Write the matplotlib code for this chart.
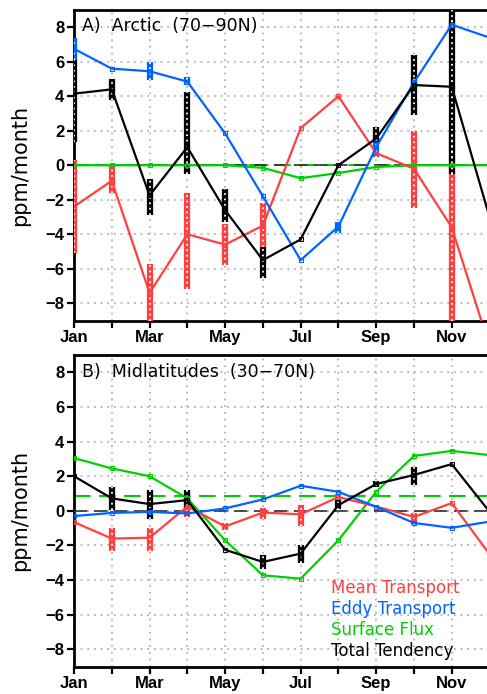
import matplotlib
matplotlib.use("Agg")
import matplotlib.pyplot as plt
import numpy as np

months = list(range(1, 13))
month_labels = ["Jan", "", "Mar", "", "May", "", "Jul", "", "Sep", "", "Nov", ""]

# Panel A: Arctic (70-90N)
a_mean = [-2.4, -0.9, -7.4, -4.0, -4.6, -3.5, 2.15, 4.0, 0.7, -0.2, -3.6, -10.5]
a_eddy = [6.75, 5.6, 5.45, 4.85, 1.85, -1.8, -5.5, -3.55, 1.05, 4.8, 8.15, 7.4]
a_flux = [0.0, 0.0, 0.0, 0.0, 0.0, -0.15, -0.75, -0.45, -0.1, 0.0, 0.0, 0.0]
a_total = [4.15, 4.4, -1.75, 1.05, -2.6, -5.5, -4.3, 0.0, 1.55, 4.65, 4.55, -3.0]
a_flux_mean = 0.0
# error bars (low, high) or None
a_mean_err = [(-5.1, 0.3), (-1.6, 0.1), (-9.0, -5.7), (-7.2, -1.6), (-5.8, -3.4), (-4.75, -2.2),
              None, None, None, (-2.5, 2.0), (-9.0, 1.9), None]
a_eddy_err = [(6.1, 7.35), None, (4.95, 6.0), (4.65, 5.1), None, None,
              None, (-3.9, -3.3), (0.5, 1.6), (4.6, 5.1), (8.0, 8.4), None]
a_total_err = [(1.35, 6.1), (3.8, 5.0), (-2.9, -0.8), (-0.5, 4.25), (-3.3, -1.35), (-6.55, -4.75),
               None, None, (1.45, 2.2), (2.9, 6.4), (-0.5, 9.0), None]

# Panel B: Midlatitudes (30-70N)
b_mean = [-0.65, -1.6, -1.55, 0.25, -0.9, -0.1, -0.2, 0.8, 0.25, -0.35, 0.45, -2.5]
b_eddy = [-0.3, -0.12, -0.06, -0.15, 0.14, 0.66, 1.45, 1.1, 0.23, -0.7, -0.98, -0.62]
b_flux = [3.05, 2.45, 2.0, 0.72, -1.7, -3.72, -3.92, -1.7, 1.1, 3.17, 3.46, 3.22]
b_total = [2.0, 0.72, 0.39, 0.62, -2.25, -2.95, -2.47, 0.33, 1.55, 2.07, 2.7, -0.05]
b_flux_mean = 0.85
b_mean_err = [None, (-2.3, -1.0), (-2.3, -1.0), (-0.35, 0.8), (-1.1, -0.7), (-0.45, 0.15),
              (-0.85, 0.35), (0.6, 1.0), None, (-0.8, -0.15), None, None]
b_eddy_err = [None] * 12
b_total_err = [None, (0.05, 1.4), (-0.45, 1.2), (0.15, 1.2), None, (-3.35, -2.55),
               (-3.0, -2.0), (0.1, 0.6), (1.4, 1.7), (1.5, 2.55), None, None]

titles = ["A)  Arctic  (70\u221290N)", "B)  Midlatitudes  (30\u221270N)"]
legend_names = ["Mean Transport", "Eddy Transport", "Surface Flux", "Total Tendency"]

RED = "#ff4040"
BLUE = "#0064ff"
GREEN = "#00d000"
BLACK = "#000000"

W, H = 487, 694
fig = plt.figure(figsize=(W / 100, H / 100), dpi=100)

x_left = 74
x_dec = 489.5
ax_w = (x_dec - x_left) / W
axA = fig.add_axes([x_left / W, 1 - 320.5 / H, ax_w, 310.5 / H])
axB = fig.add_axes([x_left / W, 1 - 666.7 / H, ax_w, 311.7 / H])

def errbars(ax, errs, color):
    for m, e in zip(months, errs):
        if e is None:
            continue
        ax.plot([m, m], [e[0], e[1]], color=color, lw=4.5, solid_capstyle="butt", zorder=4)
        ax.plot([m, m], [e[0], e[1]], color="white", lw=1.3, linestyle=(0, (1.0, 2.0)), zorder=4.5)

def panel(ax, mean, eddy, flux, total, flux_mean, merr, eerr, terr, title):
    ax.set_xlim(1, 12)
    ax.set_ylim(-9, 9)
    ax.set_xticks(months)
    ax.set_xticklabels(month_labels)
    ax.set_yticks(np.arange(-8, 9, 2))
    ax.grid(True, color="#a8a8a8", linestyle=(0, (1, 3)), lw=1.2)
    ax.axhline(flux_mean, color=GREEN, lw=1.5, dashes=(8, 4), zorder=2)
    ax.axhline(0, color="#303030", lw=1.2, dashes=(8, 4), zorder=3)
    errbars(ax, merr, RED)
    errbars(ax, eerr, BLUE)
    errbars(ax, terr, BLACK)
    for vals, c in [(flux, GREEN), (mean, RED), (eddy, BLUE), (total, BLACK)]:
        ax.plot(months, vals, color=c, lw=1.6, marker="s", ms=3, mfc="none", mew=0.8, zorder=5)
    for s in ax.spines.values():
        s.set_linewidth(2)
    ax.tick_params(axis="both", direction="out", length=5, width=1.6, labelsize=12, pad=2)
    for lab in ax.get_xticklabels() + ax.get_yticklabels():
        lab.set_fontfamily("Liberation Sans")
        lab.set_fontweight("bold")
    ax.set_ylabel("ppm/month", fontsize=15, family="DejaVu Sans")
    ax.yaxis.set_label_coords(-0.105, 0.5)
    ax.text(0.02, 0.947, title, transform=ax.transAxes, fontsize=12.5,
            family="DejaVu Sans", va="center", ha="left", zorder=10)

panel(axA, a_mean, a_eddy, a_flux, a_total, a_flux_mean, a_mean_err, a_eddy_err, a_total_err, titles[0])
panel(axB, b_mean, b_eddy, b_flux, b_total, b_flux_mean, b_mean_err, b_eddy_err, b_total_err, titles[1])

for i, (name, c) in enumerate(zip(legend_names, [RED, BLUE, GREEN, BLACK])):
    fig.text(331 / W, 1 - (588 + 21 * i) / H, name, color=c, fontsize=12,
             family="DejaVu Sans", va="center", ha="left")

fig.savefig("out.png", dpi=100)
